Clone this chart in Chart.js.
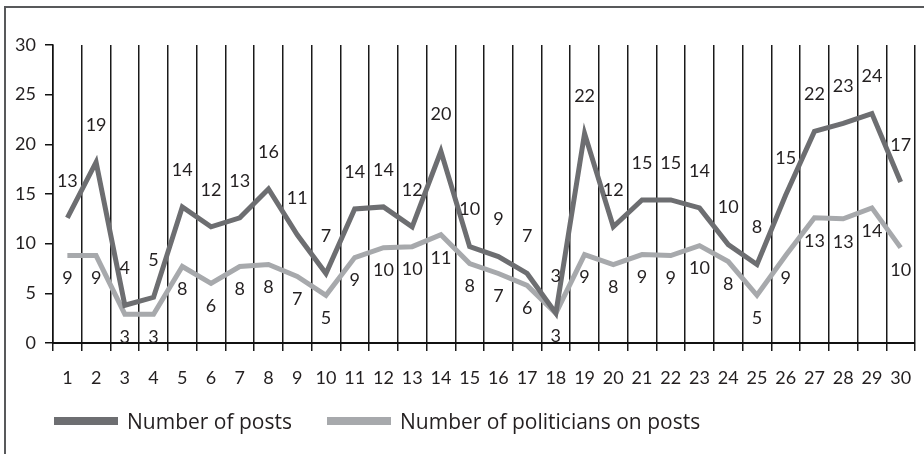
<!DOCTYPE html>
<html>
<head>
<meta charset="utf-8">
<script src="https://cdn.jsdelivr.net/npm/chart.js@4"></script>
<style>
  html, body { margin: 0; padding: 0; background: #fff; overflow: hidden; }
  #wrap { position: relative; width: 924px; height: 454px; }
  #frame { position: absolute; left: 4px; top: 6px; width: 940px; height: 470px; border: 2px solid #58595b; box-sizing: border-box; }
  #grafico { position: absolute; left: 0; top: 0; }
  .leyenda { position: absolute; top: 407px; font-family: "Open Sans", sans-serif; font-size: 21px; color: #231f20; white-space: nowrap; line-height: 28px; }
  .leyenda span.muestra { position: absolute; top: 10px; width: 64px; height: 8px; }
</style>
</head>
<body>
<div id="wrap">
  <div id="frame"></div>
  <canvas id="grafico" width="924" height="454"></canvas>
</div>
<script>
// días del mes
const dias = ["1","2","3","4","5","6","7","8","9","10","11","12","13","14","15","16","17","18","19","20","21","22","23","24","25","26","27","28","29","30"];

// valores trazados
const posts = [12.6, 18.2, 3.8, 4.6, 13.7, 11.7, 12.6, 15.5, 10.9, 7.0, 13.5, 13.7, 11.7, 19.3, 9.7, 8.7, 7.0, 3.0, 21.1, 11.7, 14.4, 14.4, 13.6, 9.9, 7.9, 14.9, 21.3, 22.1, 23.1, 16.2];
const politicos = [8.8, 8.8, 2.9, 2.9, 7.7, 6.0, 7.7, 7.9, 6.7, 4.8, 8.6, 9.6, 9.7, 10.9, 8.0, 7.0, 5.8, 3.0, 8.9, 7.9, 8.9, 8.8, 9.8, 8.2, 4.8, 8.8, 12.6, 12.5, 13.6, 9.6];

// etiquetas de datos tal como aparecen
const etiquetasPosts = [13, 19, 4, 5, 14, 12, 13, 16, 11, 7, 14, 14, 12, 20, 10, 9, 7, 3, 22, 12, 15, 15, 14, 10, 8, 15, 22, 23, 24, 17];
const etiquetasPoliticos = [9, 9, 3, 3, 8, 6, 8, 8, 7, 5, 9, 10, 10, 11, 8, 7, 6, 3, 9, 8, 9, 9, 10, 8, 5, 9, 13, 13, 14, 10];

const ticksY = [0, 5, 10, 15, 20, 25, 30];

const fuente = "Lato, sans-serif";
const colorTexto = "#231f20";

// etiquetas sobre / bajo cada punto
const etiquetas = {
  id: "etiquetas",
  afterDatasetsDraw(chart) {
    const ctx = chart.ctx;
    ctx.save();
    ctx.font = "18px " + fuente;
    ctx.fillStyle = colorTexto;
    ctx.textAlign = "center";
    ctx.textBaseline = "middle";
    chart.data.datasets.forEach((ds, i) => {
      const meta = chart.getDatasetMeta(i);
      meta.data.forEach((p, j) => {
        ctx.fillText(String(ds.etiquetas[j]), p.x, p.y + ds.desplazamiento);
      });
    });
    ctx.restore();
  },
};

const ctx = document.getElementById("grafico").getContext("2d");

const chart = new Chart(ctx, {
  type: "line",
  data: {
    labels: dias,
    datasets: [
      {
        label: "Number of posts",
        data: posts,
        etiquetas: etiquetasPosts,
        desplazamiento: -37,
        borderColor: "#6d6e71",
        backgroundColor: "#6d6e71",
        borderWidth: 5,
        pointRadius: 0,
        tension: 0,
      },
      {
        label: "Number of politicians on posts",
        data: politicos,
        etiquetas: etiquetasPoliticos,
        desplazamiento: 23,
        borderColor: "#a7a9ac",
        backgroundColor: "#a7a9ac",
        borderWidth: 5,
        pointRadius: 0,
        tension: 0,
      },
    ],
  },
  options: {
    responsive: false,
    animation: false,
    layout: { padding: { top: 45, right: 9, bottom: 51, left: 0 } },
    plugins: {
      legend: { display: false },
      tooltip: { enabled: false },
    },
    scales: {
      x: {
        offset: true,
        afterFit: (s) => { s.height = 60; s.paddingLeft = 0; s.paddingRight = 0; },
        grid: { offset: true, color: "#1a1a1a", lineWidth: 1.5, tickLength: 8, drawTicks: true },
        border: { display: true, color: "#111", width: 2 },
        ticks: { font: { family: fuente, size: 18 }, color: colorTexto, padding: 16, maxRotation: 0, autoSkip: false },
      },
      y: {
        min: 0,
        max: 30,
        afterFit: (s) => { s.width = 53; },
        afterBuildTicks: (s) => { s.ticks = ticksY.map((v) => ({ value: v })); },
        grid: { drawOnChartArea: false, color: "#111", lineWidth: 1.5, tickLength: 8 },
        border: { display: true, color: "#111", width: 1.5 },
        ticks: { font: { family: fuente, size: 18 }, color: colorTexto, padding: 9 },
      },
    },
  },
  plugins: [etiquetas],
});

// leyenda en HTML a partir de los datasets
const posiciones = [54, 327];
chart.data.datasets.forEach((ds, i) => {
  const item = document.createElement("div");
  item.className = "leyenda";
  item.style.left = posiciones[i] + "px";
  item.style.paddingLeft = "73px";
  const muestra = document.createElement("span");
  muestra.className = "muestra";
  muestra.style.left = "0px";
  muestra.style.background = ds.borderColor;
  item.appendChild(muestra);
  item.appendChild(document.createTextNode(ds.label));
  document.getElementById("wrap").appendChild(item);
});
</script>
</body>
</html>
